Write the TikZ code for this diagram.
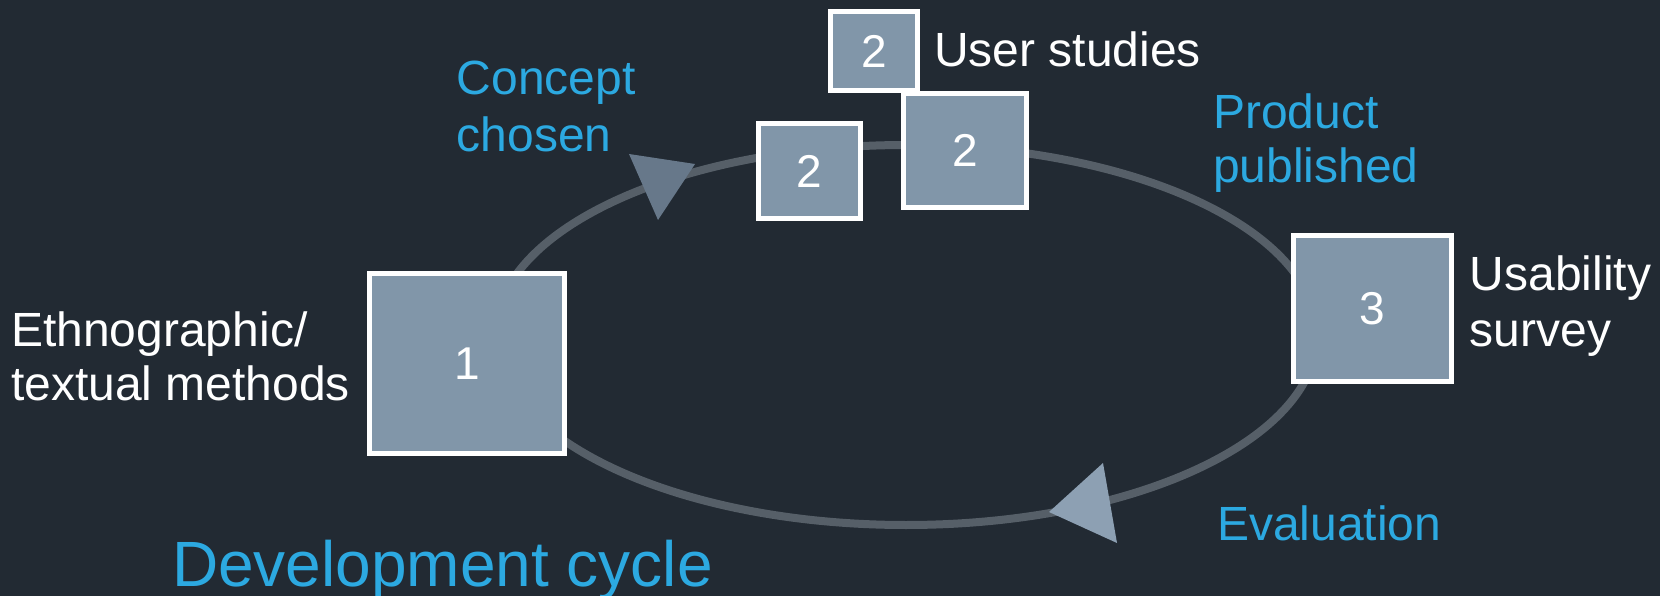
\documentclass[tikz,border=0pt]{standalone}
\usepackage{fontspec}
\setmainfont{Liberation Sans}
\usetikzlibrary{shapes.geometric}
\definecolor{bg}{HTML}{222A33}
\definecolor{boxfill}{HTML}{8196A9}
\definecolor{ringgray}{HTML}{565F68}
\definecolor{accent}{HTML}{2CA9E1}
\definecolor{headdark}{HTML}{67788A}
\definecolor{headlight}{HTML}{8DA0B3}

\begin{document}
\begin{tikzpicture}[x=1pt,y=-1pt,
  stagebox/.style={draw=white, line width=5pt, fill=boxfill, inner sep=0pt,
    text=white, font=\fontsize{46}{46}\selectfont},
  lbl/.style={anchor=base west, inner sep=0pt, text=white,
    font=\fontsize{48}{48}\selectfont},
  bluelbl/.style={lbl, text=accent},
  ring/.style={ellipse, draw=ringgray, line width=8pt, inner sep=0pt,
    minimum width=822pt, minimum height=380pt}]
\fill[bg] (0,0) rectangle (1660,596);
\useasboundingbox (0,0) rectangle (1660,596);

% the development loop and its direction marks
\node[ring] (loop) at (906,335) {};
\fill[headdark] (629,154) -- (695,164) -- (658,220) -- cycle;
\fill[headlight] (1103,463) -- (1049,512) -- (1117,543) -- cycle;

% stages
\node[stagebox, minimum width=195pt, minimum height=180pt] (s1) at (467,363.5) {1};
\node[stagebox, minimum width=102pt, minimum height=95pt] (s2a) at (809.5,171) {2};
\node[stagebox, minimum width=123pt, minimum height=114pt] (s2b) at (965,150.5) {2};
\node[stagebox, minimum width=87pt, minimum height=79pt] (s2c) at (874,51) {2};
\node[stagebox, minimum width=158pt, minimum height=146pt] (s3) at (1372.5,308.5) {3};

% stage descriptions
\node[lbl] (eth1) at (11,346.7) {Ethnographic/};
\node[lbl] (eth2) at (11,400) {textual methods};
\node[lbl] (user) at (934,67) {User studies};
\node[lbl] (usa1) at (1469.5,290) {Usability};
\node[lbl] (usa2) at (1469.5,346.7) {survey};

% transitions
\node[bluelbl] (con1) at (456.5,95) {Concept};
\node[bluelbl] (con2) at (456.5,151.7) {chosen};
\node[bluelbl] (prod1) at (1213,128.3) {Product};
\node[bluelbl] (prod2) at (1213,183) {published};
\node[bluelbl] (eval) at (1217,540) {Evaluation};

% title
\node[bluelbl, font=\fontsize{64}{64}\selectfont] (title) at (172,586) {Development cycle};
\end{tikzpicture}
\end{document}
